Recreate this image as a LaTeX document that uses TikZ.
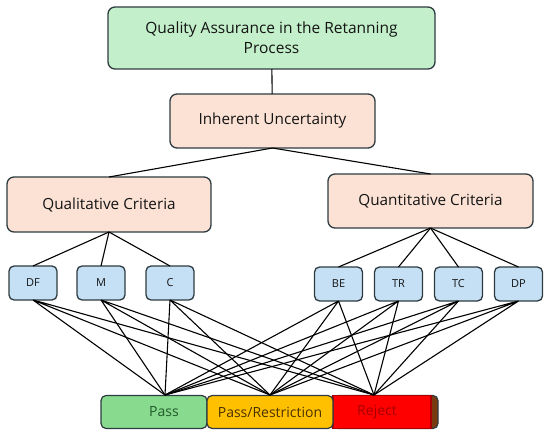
\documentclass[tikz,border=0pt]{standalone}
\usepackage{fontspec}
\setmainfont{Open Sans}
\usetikzlibrary{positioning}
\definecolor{qagreen}{HTML}{C3F0CA}
\definecolor{critpeach}{HTML}{FBE2D5}
\definecolor{subblue}{HTML}{C5DFF4}
\definecolor{boxline}{HTML}{2E3B40}
\definecolor{passgreen}{HTML}{88DA8E}
\definecolor{passtext}{HTML}{1F5A2A}
\definecolor{restrictamber}{HTML}{FFC000}
\definecolor{restricttext}{HTML}{4A3200}
\definecolor{rejectred}{HTML}{FF0000}
\definecolor{rejectdark}{HTML}{A80000}
\definecolor{rejectbrown}{HTML}{7A3A10}

\begin{document}
\begin{tikzpicture}[
    x=1pt, y=-1pt,
    box/.style={rectangle, rounded corners=7pt, draw=boxline, line width=1.3pt,
                inner sep=0pt, outer sep=0pt, align=center, text=black!92},
    crit/.style={box, fill=critpeach, font=\fontsize{15.3}{18}\selectfont},
    sub/.style={box, rounded corners=5pt, fill=subblue, minimum width=48pt,
                minimum height=34pt, font=\fontsize{11}{13}\selectfont},
    seg/.style={rectangle, rounded corners=5pt, draw=boxline, line width=1.2pt,
                inner sep=0pt, outer sep=0pt, minimum height=33pt,
                font=\fontsize{14}{16}\selectfont},
    link/.style={line width=1.1pt, black}
]
    \useasboundingbox (0,0) rectangle (550,436);

    % Nodes
    \node[box, fill=qagreen, minimum width=327pt, minimum height=62pt,
          font=\fontsize{15.5}{20}\selectfont] (qa) at (271.5,38) {Quality Assurance in the Retanning\\Process};
    \node[crit, minimum width=205pt, minimum height=54pt] (iu) at (272.5,121) {Inherent Uncertainty};
    \node[crit, minimum width=204pt, minimum height=55pt] (qual) at (109,204.5) {Qualitative Criteria};
    \node[crit, minimum width=205pt, minimum height=54pt] (quant) at (430.5,201) {Quantitative Criteria};

    \node[sub] (df) at (33,283) {DF};
    \node[sub, right=20pt of df] (m) {M};
    \node[sub, right=21pt of m] (c) {C};
    \node[sub] (be) at (338.5,284) {BE};
    \node[sub, right=12pt of be] (tr) {TR};
    \node[sub, right=12pt of tr] (tc) {TC};
    \node[sub, right=12pt of tc] (dp) {DP};

    % Result bar
    \node[seg, fill=passgreen, minimum width=106pt, text=passtext] (pass) at (154,412) {\hspace*{20pt}Pass};
    \node[seg, fill=rejectbrown, minimum width=105pt] (rejectend) at (385.5,412) {};
    \node[seg, rounded corners=0pt, fill=rejectred, draw=rejectdark, minimum width=98pt,
          text=rejectdark, anchor=west] (reject) at (333,412) {Reject\hspace*{10pt}};
    \node[seg, fill=restrictamber, minimum width=126pt, text=restricttext] (passr) at (270,412) {Pass/Restriction};

    \coordinate (passpt) at (165,395);
    \coordinate (restrictpt) at (270,395);
    \coordinate (rejectpt) at (374,395);

    % Links
    \draw[link] (qa) -- (iu);
    \draw[link] (iu.south) -- (qual.north);
    \draw[link] (iu.south) -- (quant.north);

    \draw[link] (qual.south) -- (df.north);
    \draw[link] (qual.south) -- (m.north);
    \draw[link] (qual.south) -- (c.north);
    \draw[link] (quant.south) -- (be.north);
    \draw[link] (quant.south) -- (tr.north);
    \draw[link] (quant.south) -- (tc.north);
    \draw[link] (quant.south) -- (dp.north);

    \draw[link] (df.south) -- (passpt) (df.south) -- (restrictpt) (df.south) -- (rejectpt);
    \draw[link] (m.south) -- (passpt) (m.south) -- (restrictpt) (m.south) -- (rejectpt);
    \draw[link] (c.south) -- (passpt) (c.south) -- (restrictpt) (c.south) -- (rejectpt);
    \draw[link] (be.south) -- (passpt) (be.south) -- (restrictpt) (be.south) -- (rejectpt);
    \draw[link] (tr.south) -- (passpt) (tr.south) -- (restrictpt) (tr.south) -- (rejectpt);
    \draw[link] (tc.south) -- (passpt) (tc.south) -- (restrictpt) (tc.south) -- (rejectpt);
    \draw[link] (dp.south) -- (passpt) (dp.south) -- (restrictpt) (dp.south) -- (rejectpt);
\end{tikzpicture}
\end{document}
